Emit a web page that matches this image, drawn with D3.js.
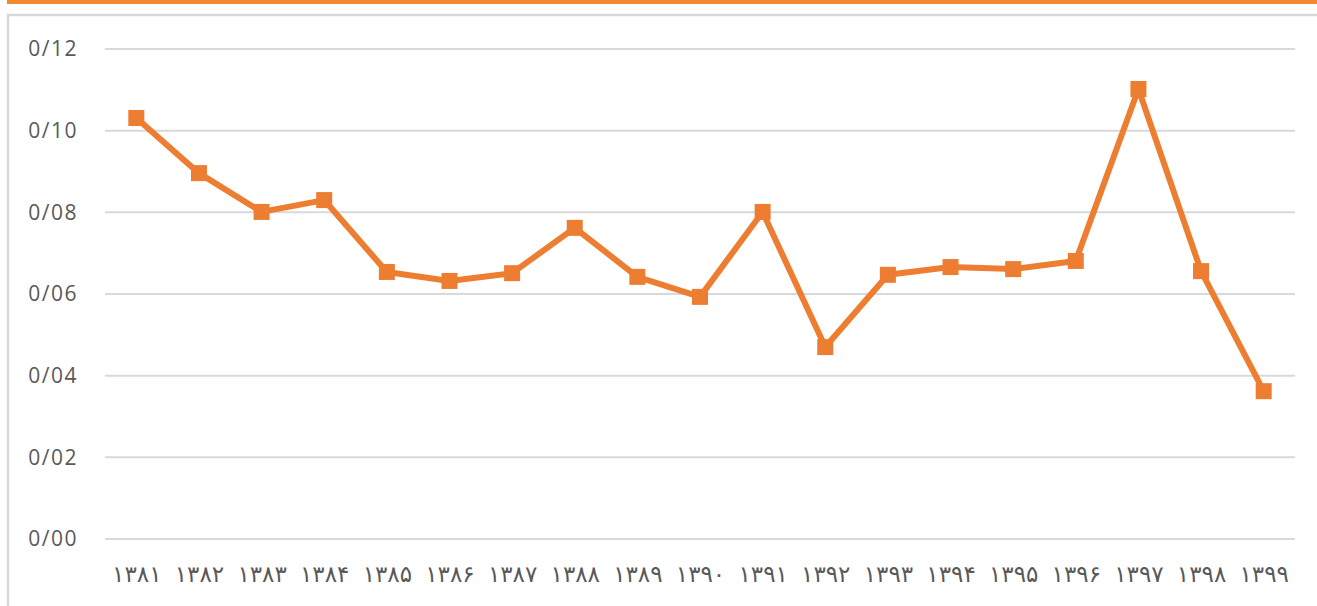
<!DOCTYPE html>
<html>
<head>
<meta charset="utf-8">
<script src="https://cdn.jsdelivr.net/npm/d3@7"></script>
<style>
  body { margin: 0; background: #fff; }
  svg { display: block; }
</style>
</head>
<body>
<script>
// years (Persian digits) and values
var years = ["۱۳۸۱", "۱۳۸۲", "۱۳۸۳", "۱۳۸۴", "۱۳۸۵", "۱۳۸۶", "۱۳۸۷", "۱۳۸۸", "۱۳۸۹", "۱۳۹۰",
             "۱۳۹۱", "۱۳۹۲", "۱۳۹۳", "۱۳۹۴", "۱۳۹۵", "۱۳۹۶", "۱۳۹۷", "۱۳۹۸", "۱۳۹۹"];
var values = [0.1031, 0.0896, 0.0801, 0.0830, 0.0654, 0.0632, 0.0651, 0.0762, 0.0642, 0.0593,
              0.0801, 0.0470, 0.0647, 0.0666, 0.0661, 0.0681, 0.1102, 0.0656, 0.0362];
var yTicks = [0, 0.02, 0.04, 0.06, 0.08, 0.10, 0.12];
var yTickLabels = ["0/00", "0/02", "0/04", "0/06", "0/08", "0/10", "0/12"];

var svgWidth = 1317;
var svgHeight = 606;
var margin = {top: 49, right: 22, bottom: 67, left: 105};
var width = svgWidth - margin.left - margin.right;
var height = svgHeight - margin.top - margin.bottom;
var orange = "#ED7D31";

var svg = d3.select("body")
  .append("svg")
  .attr("width", svgWidth)
  .attr("height", svgHeight);

// frame
svg.append("rect")
  .attr("x", 7).attr("y", 0)
  .attr("width", svgWidth - 7).attr("height", 4)
  .attr("fill", "#F0892F");
svg.append("rect")
  .attr("x", 8).attr("y", 15)
  .attr("width", svgWidth).attr("height", svgHeight)
  .attr("fill", "none")
  .attr("stroke", "#D9D9D9")
  .attr("stroke-width", 2.5);

var chart = svg.append("g")
  .attr("transform", `translate(${margin.left}, ${margin.top})`);

var x = d3.scalePoint().domain(years).range([0, width]).padding(0.5);
var y = d3.scaleLinear().domain([0, 0.12]).range([height, 0]);

// gridlines
chart.append("g")
  .selectAll("line")
  .data(yTicks)
  .enter()
  .append("line")
  .attr("x1", 0).attr("x2", width)
  .attr("y1", d => y(d)).attr("y2", d => y(d))
  .attr("stroke", "#D9D9D9")
  .attr("stroke-width", 2);

// y labels
chart.append("g")
  .selectAll("text")
  .data(yTicks)
  .enter()
  .append("text")
  .attr("x", -27)
  .attr("y", d => y(d))
  .attr("dy", "0.35em")
  .attr("text-anchor", "end")
  .attr("font-family", "'Open Sans', sans-serif")
  .attr("font-size", 21)
  .attr("letter-spacing", 1.5)
  .attr("fill", "#595959")
  .text((d, i) => yTickLabels[i]);

// x labels
var xAxis = d3.axisBottom(x).tickSize(0).tickPadding(27);
var gx = chart.append("g")
  .attr("transform", `translate(0, ${height})`)
  .call(xAxis);
gx.select(".domain").remove();
gx.selectAll("text")
  .attr("font-family", "'DejaVu Sans', sans-serif")
  .attr("font-size", 23)
  .attr("fill", "#595959");

// line
var line = d3.line()
  .x((d, i) => x(years[i]))
  .y(d => y(d));

chart.append("path")
  .datum(values)
  .attr("d", line)
  .attr("fill", "none")
  .attr("stroke", orange)
  .attr("stroke-width", 6)
  .attr("stroke-linejoin", "round");

chart.selectAll("rect.marker")
  .data(values)
  .enter()
  .append("rect")
  .attr("class", "marker")
  .attr("x", (d, i) => x(years[i]) - 8)
  .attr("y", d => y(d) - 8)
  .attr("width", 16)
  .attr("height", 16)
  .attr("fill", orange);
</script>
</body>
</html>
